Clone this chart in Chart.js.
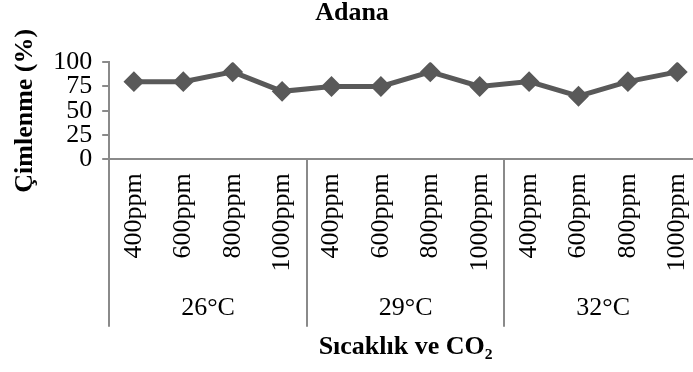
<!DOCTYPE html>
<html>
<head>
<meta charset="utf-8">
<script src="https://cdn.jsdelivr.net/npm/chart.js@4.4.1/dist/chart.umd.min.js"></script>
<style>
html,body{margin:0;padding:0;background:#fff;overflow:hidden}
/* the plot runs a little past the right edge of the picture, as in the original */
#wrap{width:702px;height:372px;position:relative}
</style>
</head>
<body>
<div id="wrap"><canvas id="chart"></canvas></div>
<script>
const CO2_LEVELS=["400ppm","600ppm","800ppm","1000ppm","400ppm","600ppm","800ppm","1000ppm","400ppm","600ppm","800ppm","1000ppm"];
const TEMPERATURES=["26°C","29°C","32°C"];
const GERMINATION=[80,80,90,70,75,75,90,75,80,65,80,90];
const Y_MIN=0, Y_MAX=100, Y_STEP=25;

const FONT="'Liberation Serif','Times New Roman',serif";
const LINE_COLOR="#595959";
const AXIS_COLOR="#8a8a8a";

/* group separators: from the x axis line down past the temperature labels */
const groupDividers={
  id:"groupDividers",
  afterDraw(chart){
    const x=chart.scales.x, g=chart.scales.x2, ctx=chart.ctx;
    const lh=Chart.helpers.toFont(g.options.ticks.font).lineHeight;
    const bottom=g.top+g.options.ticks.padding+lh+3;
    ctx.save();
    ctx.strokeStyle=AXIS_COLOR;
    ctx.lineWidth=2;
    for(let i=0;i<=TEMPERATURES.length;i++){
      const px=Math.round(g.getPixelForValue(i-0.5));
      ctx.beginPath();
      ctx.moveTo(px,x.top);
      ctx.lineTo(px,bottom);
      ctx.stroke();
    }
    ctx.restore();
  }
};

new Chart(document.getElementById("chart"),{
  type:"line",
  data:{
    labels:CO2_LEVELS,
    datasets:[{
      data:GERMINATION,
      borderColor:LINE_COLOR,
      backgroundColor:LINE_COLOR,
      borderWidth:5,
      pointStyle:"rectRot",
      pointRadius:9,
      pointBorderWidth:2,
      pointBackgroundColor:LINE_COLOR,
      pointBorderColor:LINE_COLOR,
      tension:0
    }]
  },
  options:{
    responsive:true,
    maintainAspectRatio:false,
    animation:false,
    layout:{autoPadding:false,padding:{left:2,right:0,top:0,bottom:9}},
    plugins:{
      legend:{display:false},
      tooltip:{enabled:false},
      title:{
        display:true,
        text:"Adana",
        color:"#000",
        font:{family:FONT,size:26,weight:"bold"},
        padding:{top:-2,bottom:33}
      }
    },
    scales:{
      x:{
        offset:true,
        afterFit(scale){ scale.paddingRight=0; },
        grid:{display:false,drawTicks:false},
        border:{color:AXIS_COLOR,width:2},
        ticks:{
          color:"#000",
          font:{family:FONT,size:26},
          maxRotation:90,
          minRotation:90,
          autoSkip:false,
          padding:14
        }
      },
      x2:{
        type:"category",
        position:"bottom",
        labels:TEMPERATURES,
        offset:true,
        afterFit(scale){ scale.paddingRight=0; },
        grid:{display:false,drawTicks:false},
        border:{display:false},
        ticks:{color:"#000",font:{family:FONT,size:26},padding:7,maxRotation:0},
        title:{
          display:true,
          text:"Sıcaklık ve CO₂",
          color:"#000",
          font:{family:FONT,size:26,weight:"bold"},
          padding:{top:1,bottom:0}
        }
      },
      y:{
        min:Y_MIN,
        max:Y_MAX,
        ticks:{
          stepSize:Y_STEP,
          autoSkip:false,
          color:"#000",
          font:{family:FONT,size:26},
          padding:10
        },
        grid:{drawOnChartArea:false,drawTicks:true,tickLength:7,color:AXIS_COLOR,lineWidth:2},
        border:{color:AXIS_COLOR,width:2},
        title:{
          display:true,
          text:"Çimlenme (%)",
          color:"#000",
          font:{family:FONT,size:26,weight:"bold"},
          padding:{top:8,bottom:2}
        }
      }
    }
  },
  plugins:[groupDividers]
});
</script>
</body>
</html>
